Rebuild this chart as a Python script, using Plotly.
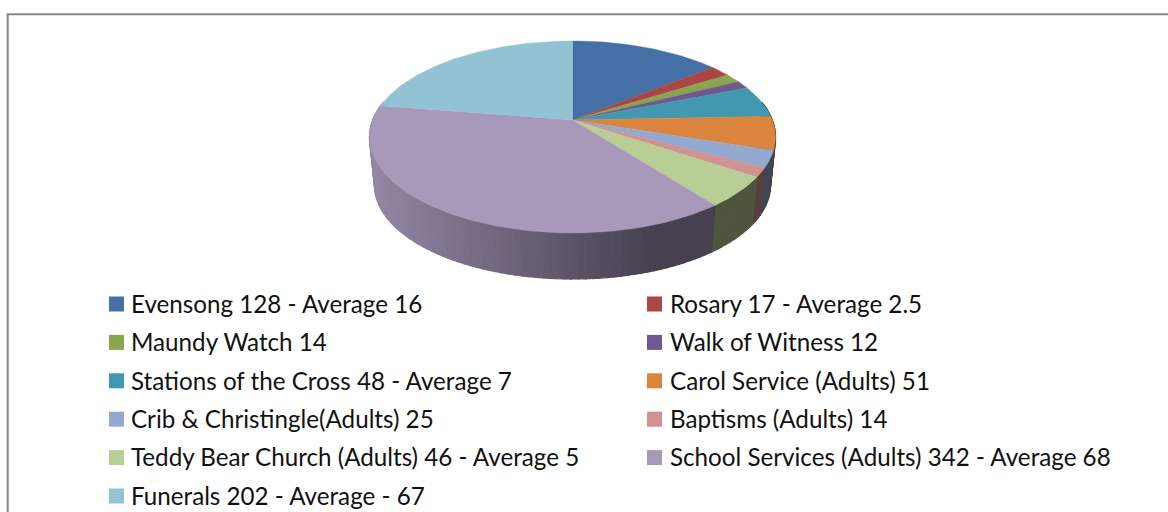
import math
import plotly.graph_objects as go

labels = ["Evensong 128 - Average 16", "Rosary 17 - Average 2.5", "Maundy Watch 14", "Walk of Witness 12",
          "Stations of the Cross 48 - Average 7", "Carol Service (Adults) 51", "Crib & Christingle(Adults) 25",
          "Baptisms (Adults) 14", "Teddy Bear Church (Adults) 46 - Average 5",
          "School Services (Adults) 342 - Average 68", "Funerals 202 - Average - 67"]
values = [128, 17, 14, 12, 48, 51, 25, 14, 46, 342, 202]
colors = ["#4470a6", "#aa4643", "#89a54e", "#71588f", "#4198af", "#db843d",
          "#93a9cf", "#d19392", "#b9cd96", "#a898ba", "#91c3d5"]

W, H = 1168, 512
CX, CY, A, B, P = 572.5, 120.0, 199.8, 93.0, 0.177
BOT_SCALE, BOT_CY = 0.975, 168.8
total = sum(values)


def project(theta, cy, scale):
    X, Y = math.sin(theta), math.cos(theta)
    w = 1 + P * Y
    return CX + scale * A * X / w, cy - scale * B * Y / w


def shade(hex_color, f):
    r, g, b = (int(hex_color[i:i + 2], 16) for i in (1, 3, 5))
    return f"rgb({round(r * f)},{round(g * f)},{round(b * f)})"


def side_factor(x):
    t = min(1.0, max(0.0, (x - 372) / (655 - 372)))
    return 0.88 + (0.42 - 0.88) * t


fig = go.Figure()
angles = []
acc = 0.0
for v in values:
    angles.append((acc / total * 2 * math.pi, (acc + v) / total * 2 * math.pi))
    acc += v

# walls: narrow strips along each visible slice edge
for (a0, a1), color, label in zip(angles, colors, labels):
    lo, hi = max(a0, math.pi / 2 - 0.2), min(a1, 3 * math.pi / 2 + 0.2)
    if hi <= lo:
        continue
    n = max(1, int((hi - lo) / 0.03))
    for i in range(n):
        t0, t1 = lo + (hi - lo) * i / n, lo + (hi - lo) * (i + 1) / n
        p0, p1 = project(t0, CY, 1), project(t1, CY, 1)
        q0, q1 = project(t0, BOT_CY, BOT_SCALE), project(t1, BOT_CY, BOT_SCALE)
        c = shade(color, side_factor((p0[0] + p1[0]) / 2))
        fig.add_trace(go.Scatter(
            x=[p0[0], p1[0], q1[0], q0[0], p0[0]], y=[p0[1], p1[1], q1[1], q0[1], p0[1]],
            mode="lines", fill="toself", fillcolor=c, line=dict(color=c, width=1.3),
            hoverinfo="skip", showlegend=False))

# top faces
for (a0, a1), color, label in zip(angles, colors, labels):
    n = max(3, int((a1 - a0) / 0.02))
    pts = [project(a0 + (a1 - a0) * i / n, CY, 1) for i in range(n + 1)]
    xs = [CX] + [p[0] for p in pts] + [CX]
    ys = [CY] + [p[1] for p in pts] + [CY]
    fig.add_trace(go.Scatter(x=xs, y=ys, mode="lines", fill="toself", fillcolor=color,
                             line=dict(color=color, width=0.4), name=label,
                             hoverinfo="name", showlegend=False))

# legend: two columns, filled row by row
annotations = []
for i, (label, color) in enumerate(zip(labels, colors)):
    col, row = i % 2, i // 2
    sx = 116.5 if col == 0 else 654.5
    tx = 128.5 if col == 0 else 667.5
    sy = 304.0 + row * 38.4
    fig.add_trace(go.Scatter(x=[sx], y=[sy], mode="markers", hoverinfo="skip", showlegend=False,
                             marker=dict(symbol="square", size=15, color=color, line=dict(width=0))))
    annotations.append(dict(x=tx, y=sy - 0.8, xref="x", yref="y", text=label, showarrow=False,
                            xanchor="left", yanchor="middle",
                            font=dict(family="Lato", size=24.2, color="#111111")))

fig.update_layout(
    width=W, height=H, margin=dict(l=0, r=0, t=0, b=0),
    paper_bgcolor="white", plot_bgcolor="white", showlegend=False,
    xaxis=dict(range=[0, W], visible=False, fixedrange=True),
    yaxis=dict(range=[H, 0], visible=False, fixedrange=True),
    annotations=annotations,
    shapes=[dict(type="path", path=f"M 7.7 {H} L 7.7 14.2 L {W} 14.2", xref="x", yref="y",
                 line=dict(color="#868686", width=2))],
)
fig.write_html("out.html", config={"displayModeBar": False},
               post_script="document.body.style.margin='0';document.documentElement.style.overflow='hidden';")
